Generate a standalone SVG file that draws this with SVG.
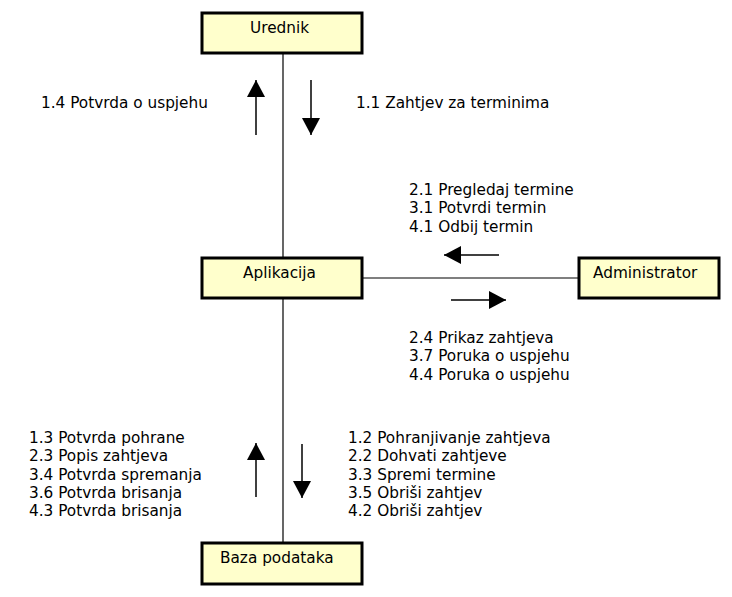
<svg xmlns="http://www.w3.org/2000/svg" width="732" height="597" viewBox="0 0 732 597">
<defs>
<style>
.box{fill:#FFFFCC;stroke:#000;stroke-width:3}
.ln{stroke:#000;stroke-width:1.2;fill:none}
.ar{stroke:#000;stroke-width:1.5;fill:none;marker-end:url(#tri)}
text{font-family:"DejaVu Sans",Verdana,sans-serif;font-size:15.3px;fill:#000}
</style>
<marker id="tri" viewBox="0 0 17 18" refX="17" refY="9" markerWidth="17" markerHeight="18" markerUnits="userSpaceOnUse" orient="auto">
<path d="M0,0 L17,9 L0,18 z" fill="#000"/>
</marker>
</defs>
<rect width="732" height="597" fill="#fff"/>
<g id="connectors">
<line class="ln" x1="283" y1="54" x2="283" y2="257"/>
<line class="ln" x1="283" y1="298" x2="283" y2="543"/>
<line class="ln" x1="363" y1="278" x2="579" y2="278"/>
<line class="ar" x1="256" y1="135" x2="256" y2="80"/>
<line class="ar" x1="311" y1="80" x2="311" y2="135"/>
<line class="ar" x1="499" y1="255" x2="444" y2="255"/>
<line class="ar" x1="451" y1="300" x2="506" y2="300"/>
<line class="ar" x1="256" y1="497" x2="256" y2="443"/>
<line class="ar" x1="302" y1="444" x2="302" y2="498"/>
</g>
<g id="labels">
<text x="41" y="108">1.4 Potvrda o uspjehu</text>
<text x="356" y="108">1.1 Zahtjev za terminima</text>
<text x="409" y="195">2.1 Pregledaj termine</text>
<text x="409" y="213.3">3.1 Potvrdi termin</text>
<text x="409" y="231.6">4.1 Odbij termin</text>
<text x="409" y="343">2.4 Prikaz zahtjeva</text>
<text x="409" y="361.3">3.7 Poruka o uspjehu</text>
<text x="409" y="379.6">4.4 Poruka o uspjehu</text>
<text x="29" y="443">1.3 Potvrda pohrane</text>
<text x="29" y="461.3">2.3 Popis zahtjeva</text>
<text x="29" y="479.6">3.4 Potvrda spremanja</text>
<text x="29" y="497.9">3.6 Potvrda brisanja</text>
<text x="29" y="516.2">4.3 Potvrda brisanja</text>
<text x="348" y="443">1.2 Pohranjivanje zahtjeva</text>
<text x="348" y="461.3">2.2 Dohvati zahtjeve</text>
<text x="348" y="479.6">3.3 Spremi termine</text>
<text x="348" y="497.9">3.5 Obriši zahtjev</text>
<text x="348" y="516.2">4.2 Obriši zahtjev</text>
</g>
<g id="urednik">
<rect class="box" x="202" y="13" width="160" height="40"/>
<text x="250" y="33">Urednik</text>
</g>
<g id="aplikacija">
<rect class="box" x="202" y="258" width="160" height="40"/>
<text x="243" y="278">Aplikacija</text>
</g>
<g id="administrator">
<rect class="box" x="579" y="258" width="140" height="40"/>
<text x="593" y="278">Administrator</text>
</g>
<g id="baza">
<rect class="box" x="202" y="543" width="160" height="41"/>
<text x="220" y="563">Baza podataka</text>
</g>
</svg>
